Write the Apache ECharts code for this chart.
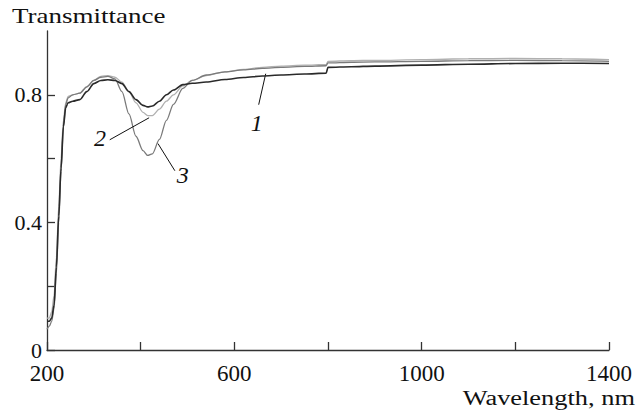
<!DOCTYPE html>
<html>
<head>
    <meta charset="utf-8">
    <title>Transmittance</title>
    <script src="https://cdn.jsdelivr.net/npm/echarts@6/dist/echarts.min.js"></script>
    <style>
        html, body { margin: 0; padding: 0; background: #fff; }
        #main { width: 636px; height: 417px; }
    </style>
</head>
<body>
<div id="main"></div>
<script type="text/javascript">
    // wavelength, nm
    var wavelengths = [200, 205, 210, 215, 220, 225, 230, 235, 240, 245, 255, 270, 285, 300, 315, 330, 345, 360, 375, 390,
        405, 415, 425, 440, 455, 470, 490, 510, 540, 580, 620, 660, 700, 750, 796, 800, 850, 900, 1000, 1100, 1200, 1300, 1400];

    // transmittance of samples 1, 2, 3
    var trans1 = [0.09, 0.09, 0.10, 0.14, 0.26, 0.42, 0.57, 0.70, 0.76, 0.775, 0.78, 0.785, 0.81, 0.835, 0.845, 0.847, 0.845, 0.835, 0.81, 0.785,
        0.767, 0.762, 0.765, 0.78, 0.80, 0.815, 0.832, 0.836, 0.84, 0.848, 0.854, 0.859, 0.862, 0.865, 0.868, 0.886, 0.888, 0.89, 0.893, 0.896, 0.898, 0.899, 0.898];
    var trans2 = [0.10, 0.10, 0.12, 0.17, 0.29, 0.45, 0.60, 0.72, 0.775, 0.795, 0.80, 0.805, 0.825, 0.845, 0.858, 0.86, 0.855, 0.84, 0.81, 0.775,
        0.745, 0.735, 0.735, 0.755, 0.78, 0.80, 0.828, 0.845, 0.86, 0.872, 0.88, 0.886, 0.89, 0.893, 0.895, 0.905, 0.907, 0.908, 0.91, 0.913, 0.914, 0.913, 0.91];
    var trans3 = [0.065, 0.075, 0.09, 0.13, 0.24, 0.40, 0.56, 0.70, 0.77, 0.79, 0.80, 0.805, 0.825, 0.845, 0.855, 0.858, 0.85, 0.81, 0.74, 0.67,
        0.625, 0.61, 0.615, 0.66, 0.72, 0.77, 0.82, 0.845, 0.862, 0.872, 0.878, 0.883, 0.886, 0.889, 0.891, 0.90, 0.902, 0.903, 0.905, 0.907, 0.908, 0.907, 0.905];

    var xTicks = [200, 400, 600, 800, 1000, 1200, 1400];
    var xLabels = [200, 600, 1000, 1400];
    var yTicks = [0, 0.2, 0.4, 0.6, 0.8];
    var yLabels = [0, 0.4, 0.8];

    // curve numbers: leader line [from, to] and label position, in data units
    var curveNames = ['1', '2', '3'];
    var leaders = [
        [[667, 0.866], [652, 0.769]],
        [[418, 0.728], [334, 0.659]],
        [[437, 0.647], [473, 0.562]]
    ];
    var namePos = [[648, 0.712], [313, 0.664], [490, 0.55]];

    function pairs(y) {
        var out = [];
        for (var i = 0; i < wavelengths.length; i++) out.push([wavelengths[i], y[i]]);
        return out;
    }

    var serif = '"Liberation Serif", "Times New Roman", Times, serif';
    var myChart = echarts.init(document.getElementById('main'), null, {renderer: 'svg'});

    var curveSeries = function (name, data, color, width, z) {
        return {
            name: name,
            type: 'line',
            data: pairs(data),
            smooth: 0.3,
            smoothMonotone: 'x',
            showSymbol: false,
            z: z,
            lineStyle: {color: color, width: width}
        };
    };

    var s1 = curveSeries('1', trans1, '#2a2a2a', 1.6, 5);
    var s2 = curveSeries('2', trans2, '#b0b0b0', 1.3, 3);
    var s3 = curveSeries('3', trans3, '#7a7a7a', 1.3, 4);

    // leader lines and curve numbers
    s1.markLine = {
        silent: true,
        symbol: 'none',
        animation: false,
        lineStyle: {color: '#111', width: 1, type: 'solid'},
        label: {show: false},
        data: leaders.map(function (l) {
            return [{coord: l[0]}, {coord: l[1]}];
        })
    };
    s1.markPoint = {
        silent: true,
        symbol: 'circle',
        symbolSize: 0,
        animation: false,
        label: {
            show: true,
            position: 'inside',
            color: '#111',
            fontFamily: serif,
            fontStyle: 'italic',
            fontSize: 24
        },
        data: namePos.map(function (p, i) {
            return {coord: p, value: curveNames[i], label: {formatter: curveNames[i]}};
        })
    };

    var option = {
        animation: false,
        backgroundColor: '#fff',
        grid: {left: 47, right: 27, top: 31, bottom: 67},
        xAxis: {
            type: 'value',
            min: 200,
            max: 1400,
            interval: 200,
            axisLine: {lineStyle: {color: '#333', width: 1.3}},
            axisTick: {inside: true, length: 8, customValues: xTicks, lineStyle: {color: '#333', width: 1.3}},
            axisLabel: {
                customValues: xLabels, color: '#111', fontFamily: serif, fontSize: 23, margin: 13, lineHeight: 20,
                formatter: function (v) { return String(v); }
            },
            splitLine: {show: false}
        },
        yAxis: {
            type: 'value',
            min: 0,
            max: 1,
            interval: 0.2,
            axisLine: {show: true, lineStyle: {color: '#333', width: 1.3}},
            axisTick: {show: true, inside: true, length: 8, customValues: yTicks, lineStyle: {color: '#333', width: 1.3}},
            axisLabel: {
                customValues: yLabels, color: '#111', fontFamily: serif, fontSize: 22, margin: 5, lineHeight: 18,
                formatter: function (v) { return String(v); }
            },
            splitLine: {show: false}
        },
        graphic: [
            {
                type: 'text',
                left: 12,
                top: 6,
                scaleX: 1.35,
                style: {text: 'Transmittance', fill: '#111', font: '20px "Liberation Serif", "Times New Roman", serif'}
            },
            {
                type: 'text',
                right: 1,
                top: 388,
                scaleX: 1.32,
                style: {text: 'Wavelength, nm', fill: '#111', font: '20px "Liberation Serif", "Times New Roman", serif'}
            }
        ],
        series: [s2, s3, s1]
    };

    myChart.setOption(option);
</script>
</body>
</html>
